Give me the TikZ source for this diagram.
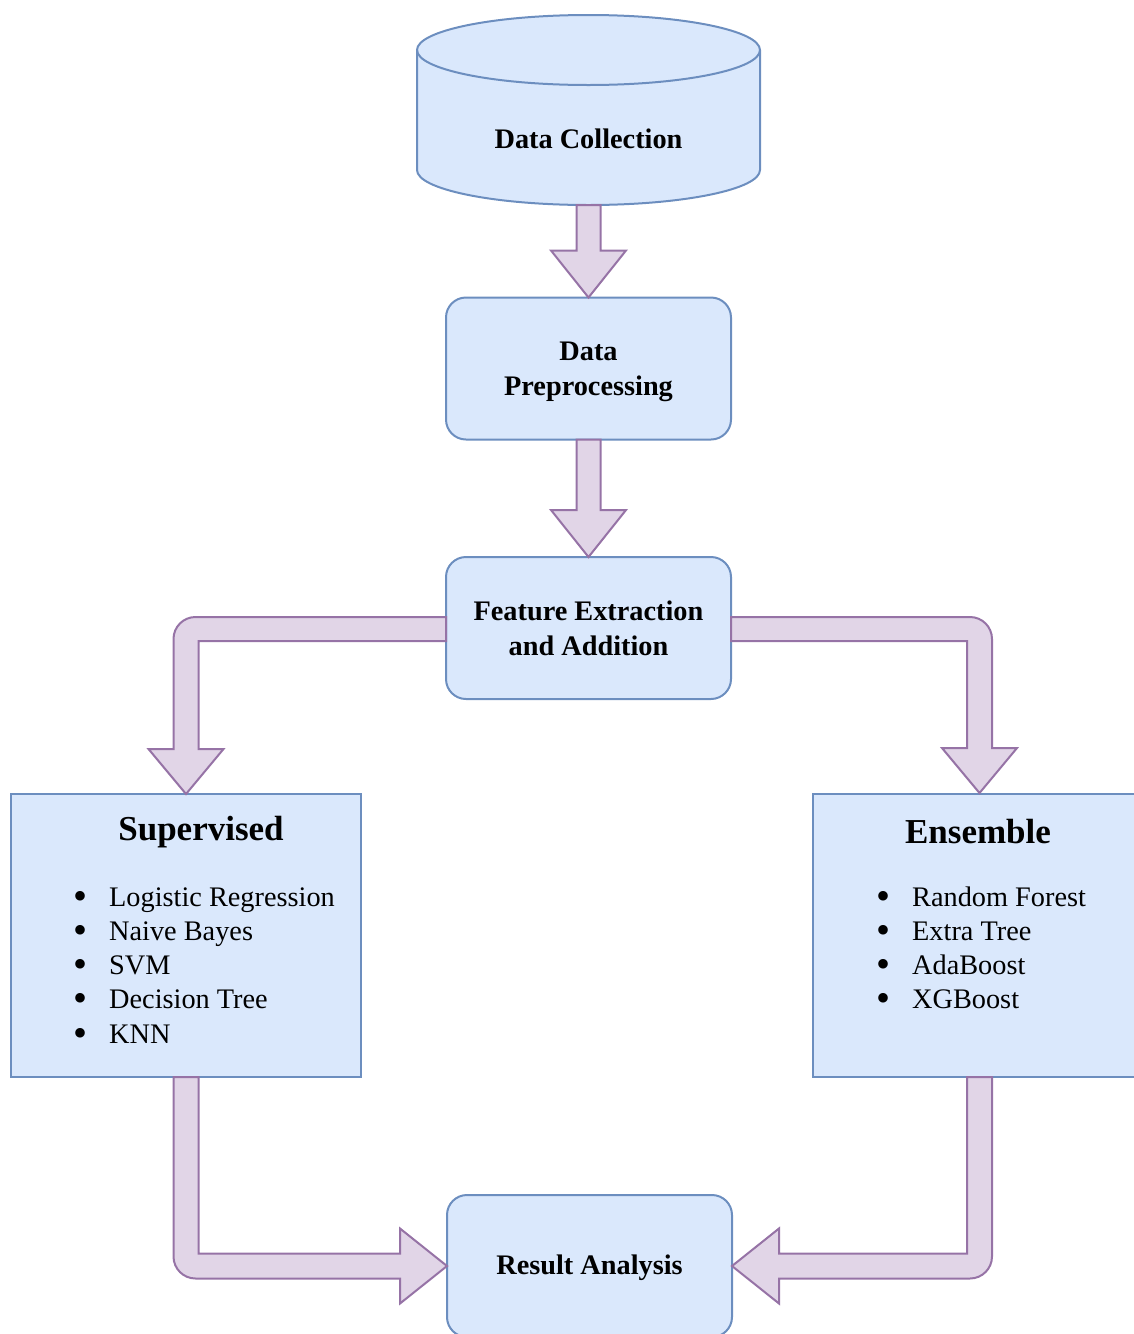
\documentclass[tikz,border=0pt]{standalone}
\usepackage{fontspec}
\setmainfont{Liberation Serif}
\usetikzlibrary{calc}
\definecolor{bfill}{HTML}{DAE8FC}
\definecolor{bdraw}{HTML}{6C8EBF}
\definecolor{pfill}{HTML}{E1D5E7}
\definecolor{pdraw}{HTML}{9673A6}
\newcommand{\bigbul}{\makebox[34pt][l]{\hspace{-2pt}\smash{\raisebox{-3pt}{\fontsize{40}{40}\selectfont\textbullet}}}}
\tikzset{
  box/.style={draw=bdraw, fill=bfill, line width=2pt, minimum width=285pt, minimum height=142pt,
    rounded corners=20pt, outer sep=0pt, inner sep=0pt, align=center,
    font=\fontsize{28.3}{35}\selectfont\bfseries},
  bigbox/.style={draw=bdraw, fill=bfill, line width=2pt, minimum width=350pt, minimum height=283pt,
    outer sep=0pt, inner sep=0pt},
  titletxt/.style={inner sep=0pt, font=\fontsize{35}{40}\selectfont\bfseries},
  itemtxt/.style={inner sep=0pt, anchor=base west, font=\fontsize{28.3}{34}\selectfont},
  plaintxt/.style={inner sep=0pt, font=\fontsize{28.3}{35}\selectfont\bfseries},
  fat/.style={draw=pdraw, fill=pfill, line width=2pt, line join=miter},
  cyl/.style={draw=bdraw, fill=bfill, line width=2pt}
}
\begin{document}
\begin{tikzpicture}[x=1pt,y=1pt]
\useasboundingbox (0,0) rectangle (1134,-1334);

% Data Collection cylinder
\filldraw[cyl] (417,-50) -- (417,-170)
  arc[start angle=180,end angle=360,x radius=171.5pt,y radius=35pt]
  -- (760,-50)
  arc[start angle=0,end angle=180,x radius=171.5pt,y radius=35pt] -- cycle;
\draw[cyl, fill=none] (417,-50) arc[start angle=180,end angle=360,x radius=171.5pt,y radius=35pt];
\node[plaintxt] (dc) at (588.5,-139) {Data Collection};
\coordinate (dcb) at (588.5,-205);

% Process boxes
\node[box] (pre) at (588.5,-368.5) {\rule{0pt}{26pt}Data\\Preprocessing};
\node[box] (feat) at (588.5,-628) {Feature Extraction\\and Addition};
\node[box] (res) at (589.5,-1266) {\rule{0pt}{24pt}Result Analysis};

% Category boxes
\node[bigbox] (sup) at (186,-935.5) {};
\node[bigbox] (ens) at (988,-935.5) {};
\coordinate (enstop) at (979.5,-793);
\coordinate (ensbot) at (979.5,-1077);

\node[titletxt] (suptitle) at (201,-832) {Supervised};
\node[titletxt] (enstitle) at (978,-832) {Ensemble};

\foreach \t [count=\i] in {Logistic Regression, Naive Bayes, SVM, Decision Tree, KNN}
  \node[itemtxt] (supitem\i) at (75,{-906-34.25*(\i-1)}) {\bigbul\t};
\foreach \t [count=\i] in {Random Forest, Extra Tree, AdaBoost, XGBoost}
  \node[itemtxt] (ensitem\i) at (878,{-906-34.25*(\i-1)}) {\bigbul\t};

% Straight fat arrows
\draw[fat] let \p1=(dcb), \p2=(pre.north) in
  (\x1-12,\y1) -- (\x2-12,\y2+47) -- (\x2-37.5,\y2+47) -- (\p2)
  -- (\x2+37.5,\y2+47) -- (\x2+12,\y2+47) -- (\x1+12,\y1) -- cycle;
\draw[fat] let \p1=(pre.south), \p2=(feat.north) in
  (\x1-12,\y1) -- (\x2-12,\y2+47) -- (\x2-37.5,\y2+47) -- (\p2)
  -- (\x2+37.5,\y2+47) -- (\x2+12,\y2+47) -- (\x1+12,\y1) -- cycle;

% Feature -> Supervised
\draw[fat] let \p1=(feat.west), \p2=(sup.north) in
  (\x1,\y1+11) -- (\x2-12.5+22,\y1+11)
  arc[start angle=90,end angle=180,radius=22pt]
  -- (\x2-12.5,\y2+45) -- (\x2-37.5,\y2+45) -- (\p2)
  -- (\x2+37.5,\y2+45) -- (\x2+12.5,\y2+45) -- (\x2+12.5,\y1-13) -- (\x1,\y1-13) -- cycle;

% Feature -> Ensemble
\draw[fat] let \p1=(feat.east), \p2=(enstop) in
  (\x1,\y1+11) -- (\x2+12.5-22,\y1+11)
  arc[start angle=90,end angle=0,radius=22pt]
  -- (\x2+12.5,\y2+45) -- (\x2+37.5,\y2+45) -- (\p2)
  -- (\x2-37.5,\y2+45) -- (\x2-12.5,\y2+45) -- (\x2-12.5,\y1-13) -- (\x1,\y1-13) -- cycle;

% Supervised -> Result
\draw[fat] let \p1=(sup.south), \p2=(res.west) in
  (\x1-12.5,\y1) -- (\x1-12.5,\y2-12.5+22)
  arc[start angle=180,end angle=270,radius=22pt]
  -- (\x2-47,\y2-12.5) -- (\x2-47,\y2-37.5) -- (\p2)
  -- (\x2-47,\y2+37.5) -- (\x2-47,\y2+12.5) -- (\x1+12.5,\y2+12.5) -- (\x1+12.5,\y1) -- cycle;

% Ensemble -> Result
\draw[fat] let \p1=(ensbot), \p2=(res.east) in
  (\x1+12.5,\y1) -- (\x1+12.5,\y2-12.5+22)
  arc[start angle=0,end angle=-90,radius=22pt]
  -- (\x2+47,\y2-12.5) -- (\x2+47,\y2-37.5) -- (\p2)
  -- (\x2+47,\y2+37.5) -- (\x2+47,\y2+12.5) -- (\x1-12.5,\y2+12.5) -- (\x1-12.5,\y1) -- cycle;
\end{tikzpicture}
\end{document}
